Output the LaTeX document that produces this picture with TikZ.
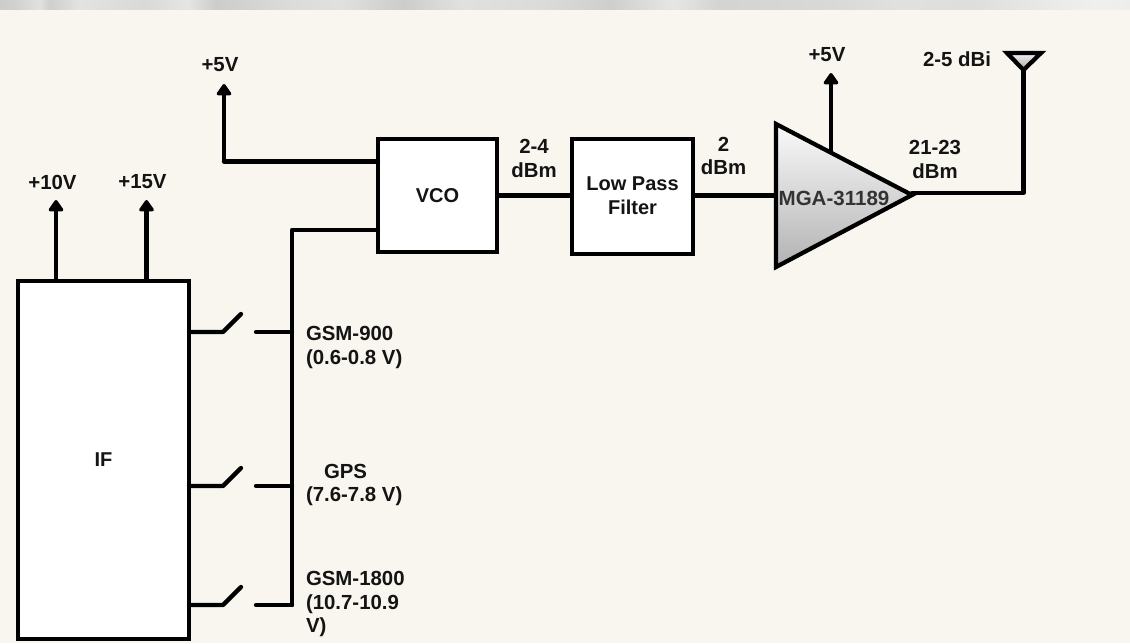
\documentclass[tikz,border=0pt]{standalone}
\usepackage{fontspec}
\setmainfont{Liberation Sans}
\usetikzlibrary{arrows.meta}
\definecolor{paper}{HTML}{F9F6EF}
\definecolor{ink}{HTML}{141414}
\tikzset{
  x=0.75pt,y=-0.75pt,
  wire/.style={draw=black,line width=3.2pt,line cap=round,line join=round},
  railarrow/.style={wire,line cap=butt,-{Triangle[length=9.5pt,width=12.5pt,round]}},
  block/.style={draw=black,line width=3.2pt,fill=white,inner sep=0pt,outer sep=0pt,
     font=\fontsize{15}{17}\selectfont\bfseries,text=ink,align=center},
  lab/.style={inner sep=0pt,outer sep=0pt,font=\fontsize{15.3}{17.4}\selectfont\bfseries,text=ink},
}
\begin{document}
\begin{tikzpicture}
\useasboundingbox (0,0) rectangle (1130,643);
\fill[paper] (0,0) rectangle (1130,643);
\def\prevx{0}\def\prevg{80}
\foreach \xx/\g in {15/82,40/88,50/81,80/89,145/85,187/90,216/80,288/86,340/88,403/80,460/88,540/86,611/81,673/90,720/83,830/85,900/88,971/87,1040/91,1094/94,1130/93}{
  \shade[left color=black!\the\numexpr100-\prevg\relax,right color=black!\the\numexpr100-\g\relax] (\prevx,0) rectangle (\xx,9);
  \global\let\prevx\xx\global\let\prevg\g
}
% blocks
\node[block,minimum width=171pt*0.75,minimum height=358pt*0.75] (if) at (103.5,460) {IF};
\node[block,minimum width=119pt*0.75,minimum height=113pt*0.75] (vco) at (437.5,195.5) {VCO};
\node[block,minimum width=121pt*0.75,minimum height=115pt*0.75] (lpf) at (632.5,196.5) {\raisebox{1.5pt}{\shortstack{Low Pass\\[3.5pt]Filter}}};
% amplifier
\coordinate (ampT) at (776,124);
\coordinate (ampB) at (776,267);
\coordinate (ampO) at (912,195);
\path[wire,line join=miter,top color=white!96!gray,bottom color=black!30] (ampT) -- (ampO) -- (ampB) -- cycle;
\node[inner sep=0pt,font=\fontsize{15.4}{17}\selectfont\bfseries,text=black!80] (ampname) at (834,198) {MGA-31189};
\coordinate (ampIn) at (776,195.5);
\coordinate (ampSup) at (831,154);
\coordinate (ampOut) at (912,193);
% antenna
\coordinate (antL) at (1007,53);
\coordinate (antR) at (1041,53);
\coordinate (antA) at (1023.5,70);
\path[wire,line join=miter,top color=white!90!gray,bottom color=black!35] (antL) -- (antR) -- (antA) -- cycle;
% rails
\coordinate (r10) at (56,200);
\coordinate (r15) at (146.5,200);
\coordinate (r5a) at (224,84);
\coordinate (r5b) at (831,73);
\coordinate (bend5) at (224,161.5);
\coordinate (vcoA) at (378,161.5);
\coordinate (vcoB) at (378,230);
\coordinate (busT) at (292,230);
\coordinate (busB) at (292,605);
\draw[railarrow] (if.north -| r10) -- (r10);
\draw[railarrow] (if.north -| r15) -- (r15);
\draw[wire] (vcoA) -- (bend5);
\draw[railarrow] (bend5) -- (r5a);
\draw[railarrow] (ampSup) -- (r5b);
\draw[wire] (vcoB) -- (busT) -- (busB);
% signal chain
\draw[wire,line cap=butt] (vco.east) -- (lpf.west |- vco.east);
\draw[wire,line cap=butt] (lpf.east |- vco.east) -- (ampIn);
\coordinate (antCorner) at (1023.5,193);
\draw[wire] (ampOut) -- (antCorner) -- (antA);
% switches
\foreach \n/\y in {a/332,b/486,c/605}{
  \coordinate (sw\n L) at (if.east |- 0,\y);
  \coordinate (sw\n H) at (223,\y);
  \coordinate (sw\n T) at (241,\y-18);
  \coordinate (sw\n R) at (256,\y);
  \coordinate (sw\n B) at (292,\y);
  \draw[wire] (sw\n L) -- (sw\n H) -- (sw\n T);
  \draw[wire] (sw\n R) -- (sw\n B);
}
% labels
\node[lab] (l5a) at (220,65) {+5V};
\node[lab] (l10) at (52.5,182) {+10V};
\node[lab] (l15) at (142.5,182) {+15V};
\node[lab,align=center] (lvco) at (534,158.5) {2-4\\dBm};
\node[lab,align=center] (llpf) at (723.5,156) {2\\dBm};
\node[lab,align=center] (lamp) at (935,159.5) {21-23\\dBm};
\node[lab] (l5b) at (827,55) {+5V};
\node[lab] (lant) at (957,59.5) {2-5 dBi};
\node[lab,align=left,anchor=west] (lg9) at (306,347.5) {GSM-900\\(0.6-0.8 V)};
\node[lab,anchor=west] (lgp) at (324,471) {GPS};
\node[lab,anchor=west] (lgv) at (306,496) {(7.6-7.8 V)};
\node[lab,align=left,anchor=west] (lg18) at (306,604) {GSM-1800\\(10.7-10.9\\V)};
\end{tikzpicture}
\end{document}
